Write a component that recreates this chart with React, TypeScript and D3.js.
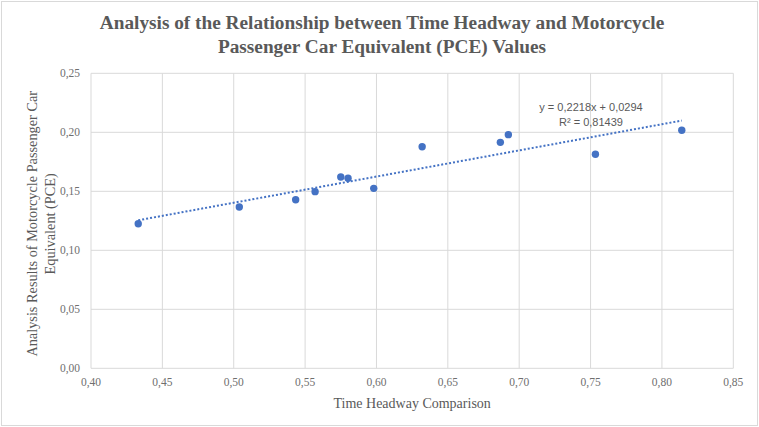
import * as d3 from 'd3';
import React from 'react';

// time headway comparison (x) and PCE result (y)
const headway = [0.4331, 0.5039, 0.5434, 0.557, 0.575, 0.5801, 0.5981, 0.632, 0.6868, 0.6924, 0.7534, 0.8139];
const pce = [0.1225, 0.1367, 0.1429, 0.1497, 0.1621, 0.161, 0.1525, 0.1878, 0.1915, 0.198, 0.1814, 0.2017];
const xTicks = [0.4, 0.45, 0.5, 0.55, 0.6, 0.65, 0.7, 0.75, 0.8, 0.85];
const yTicks = [0, 0.05, 0.1, 0.15, 0.2, 0.25];
const slope = 0.2218;
const intercept = 0.0294;
const eqLabel = 'y = 0,2218x + 0,0294';
const r2Label = 'R² = 0,81439';

const W = 759, H = 427;
const margin = { top: 73.3, right: 25.7, bottom: 58.7, left: 91 };

const fmt = (v: number) => v.toFixed(2).replace('.', ',');

const App = () => {
  const width = W - margin.left - margin.right;
  const height = H - margin.top - margin.bottom;

  const x = d3.scaleLinear().domain([0.4, 0.85]).range([0, width]);
  const y = d3.scaleLinear().domain([0, 0.25]).range([height, 0]);

  const xMin = d3.min(headway) as number;
  const xMax = d3.max(headway) as number;
  const trend = d3.line<number>()
    .x(d => x(d))
    .y(d => y(slope * d + intercept));

  const serif = '"Liberation Serif", "Times New Roman", serif';
  const grey = '#595959';

  return (
    <svg width={W} height={H} style={{ position: 'absolute', left: 0, top: 0, background: '#fff' }}>
      <rect x={1.5} y={1.5} width={W - 3} height={H - 3} fill="#fff" stroke="#d9d9d9" />
      <text x={382} fontFamily={serif} fontWeight="bold" fontSize={19.3} fill={grey} textAnchor="middle">
        <tspan x={382} y={29}>Analysis of the Relationship between Time Headway and Motorcycle</tspan>
        <tspan x={382} y={53}>Passenger Car Equivalent (PCE) Values</tspan>
      </text>
      <g transform={`translate(${margin.left},${margin.top})`}>
        {xTicks.map(t => (
          <line key={'gx' + t} x1={x(t)} x2={x(t)} y1={0} y2={height} stroke="#d9d9d9" />
        ))}
        {yTicks.map(t => (
          <line key={'gy' + t} x1={0} x2={width} y1={y(t)} y2={y(t)} stroke="#d9d9d9" />
        ))}
        {xTicks.map(t => (
          <text key={'tx' + t} x={x(t)} y={height + 18} fontFamily={serif} fontSize={11.5} fill="#6f6f6f" textAnchor="middle">{fmt(t)}</text>
        ))}
        {yTicks.map(t => (
          <text key={'ty' + t} x={-11} y={y(t) + 4} fontFamily={serif} fontSize={11.5} fill="#6f6f6f" textAnchor="end">{fmt(t)}</text>
        ))}
        <path d={trend([xMin, xMax]) as string} fill="none" stroke="#4472C4" strokeWidth={2} strokeDasharray="2 2" />
        {headway.map((h, i) => (
          <circle key={i} cx={x(h)} cy={y(pce[i])} r={3.7} fill="#4472C4" />
        ))}
        <text fontFamily='"Liberation Sans", Arial, sans-serif' fontSize={11} fill={grey} textAnchor="middle">
          <tspan x={500} y={38}>{eqLabel}</tspan>
          <tspan x={500} y={53}>{r2Label}</tspan>
        </text>
      </g>
      <text x={margin.left + width / 2} y={408} fontFamily={serif} fontSize={14} fill={grey} textAnchor="middle">Time Headway Comparison</text>
      <text transform={`translate(0,${margin.top + height / 2 + 3}) rotate(-90)`} fontFamily={serif} fontSize={14.3} fill={grey} textAnchor="middle">
        <tspan x={0} y={37}>Analysis Results of Motorcycle Passenger Car</tspan>
        <tspan x={0} y={55}>Equivalent (PCE)</tspan>
      </text>
    </svg>
  );
};

export default App;
